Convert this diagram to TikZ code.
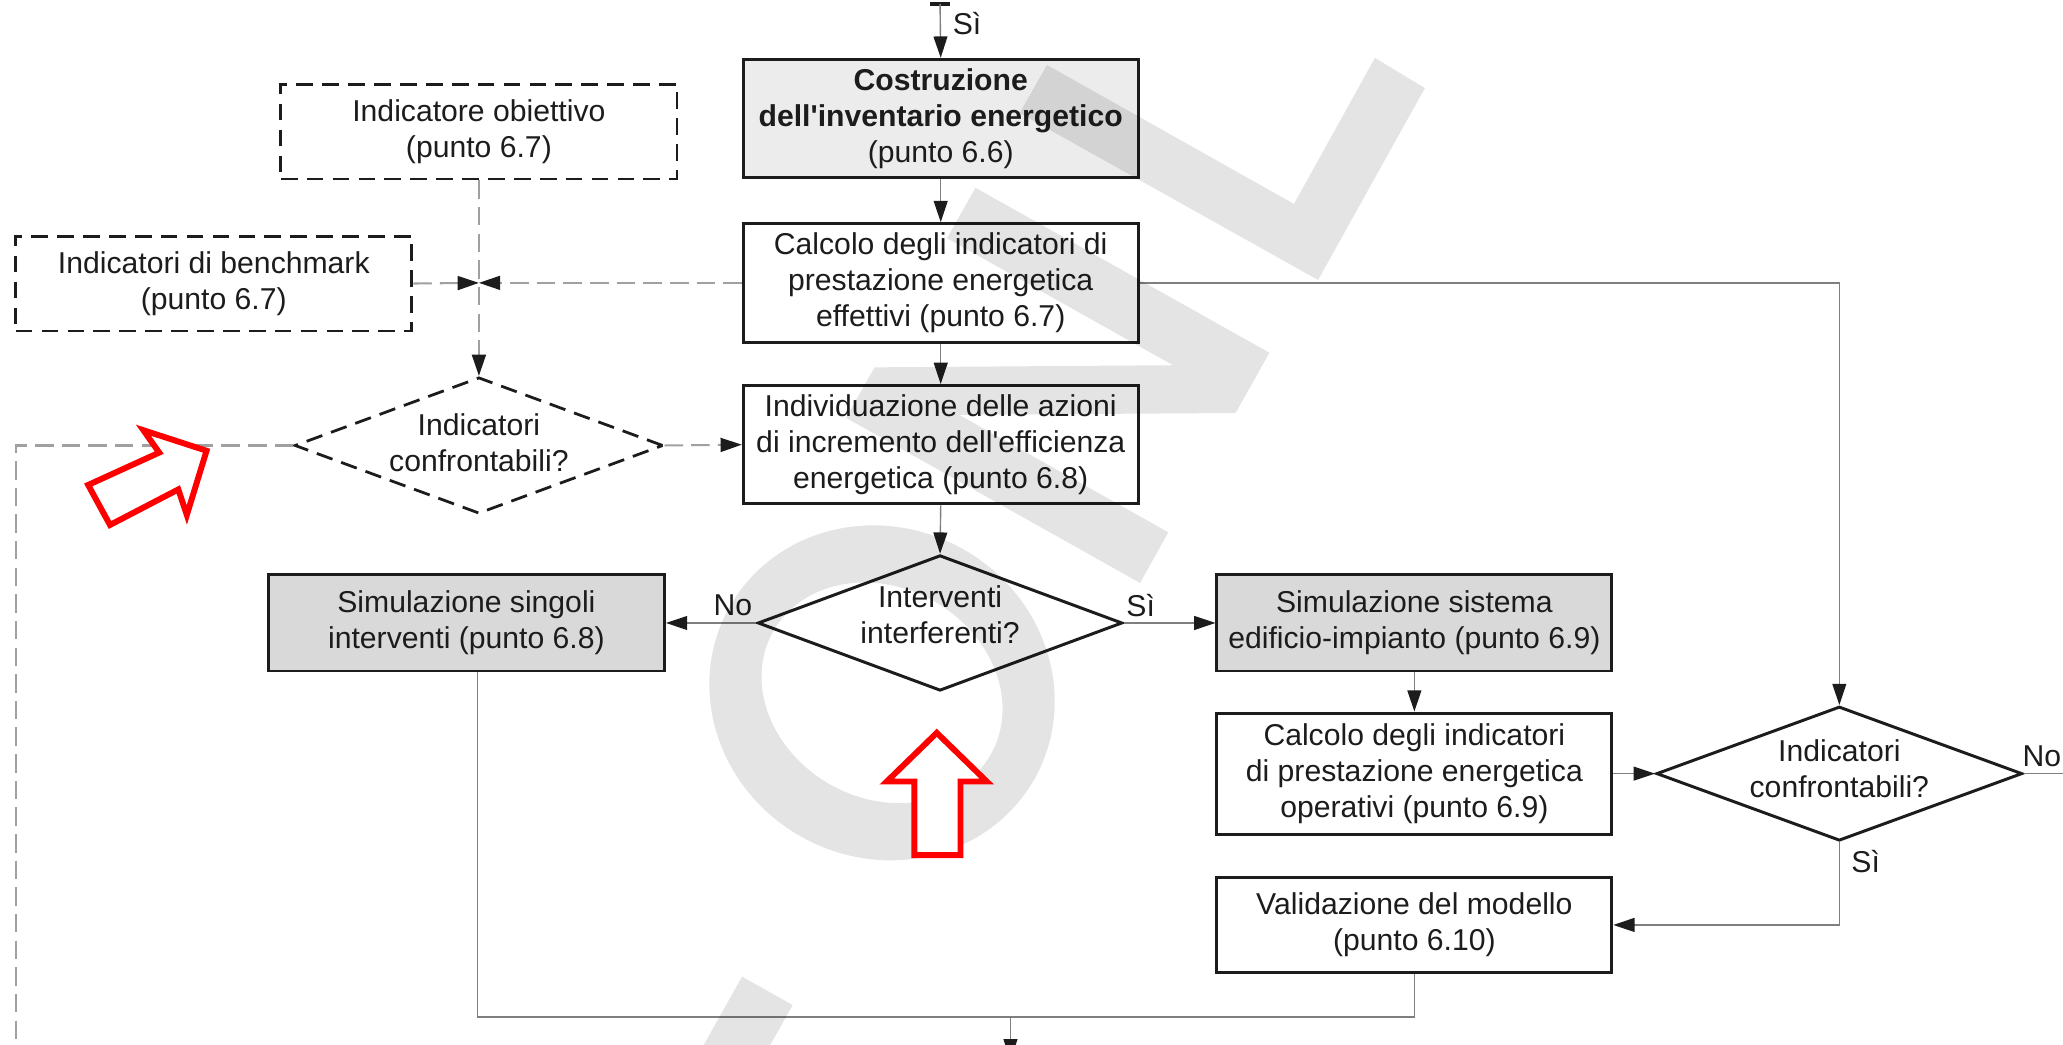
\documentclass[tikz,border=0pt]{standalone}
\usepackage{fontspec}
\newfontfamily\diagfont{Liberation Sans}
\usetikzlibrary{arrows.meta,shapes.geometric,calc}

\definecolor{ink}{HTML}{1C1C1C}
\definecolor{lnk}{HTML}{7F7F7F}
\definecolor{dlnk}{HTML}{A0A0A0}
\definecolor{fillA}{HTML}{ECECEC}
\definecolor{fillB}{HTML}{D9D9D9}

\begin{document}
\begin{tikzpicture}[x=0.025cm, y=-0.025cm,
  every node/.style={font={\diagfont\fontsize{16.3pt}{19.5pt}\selectfont}, text=ink},
  box/.style={draw=ink, line width=1.6pt, rectangle, inner sep=0pt,
              minimum width=7.5cm, align=center},
  dbox/.style={draw=ink, line width=1.5pt, rectangle, inner sep=0pt,
              minimum width=7.525cm, minimum height=1.8cm, align=center,
              dash pattern=on 9pt off 5pt},
  dec/.style={draw=ink, line width=1.6pt, shape=diamond, inner sep=0pt},
  ddec/.style={dec, line width=1.5pt, dash pattern=on 9pt off 5pt},
  txt/.style={align=center, inner sep=0pt},
  lbl/.style={inner sep=0pt},
  link/.style={draw=lnk, line width=0.75pt},
  dlink/.style={draw=dlnk, line width=1.1pt, dash pattern=on 10pt off 4.4pt},
  tip/.style={-{Triangle[length=11.5pt, width=7.5pt, color=ink]}},
  redarrow/.style={draw=red, line width=3.2pt, fill=white, line join=miter}
]
\useasboundingbox (0,0) rectangle (1568,794);

% ---------- main column ----------
\node[box, fill=fillA, minimum height=2.25cm] (inv) at (715,90)
  {\textbf{Costruzione}\\\textbf{dell'inventario energetico}\\(punto 6.6)};
\node[box, minimum height=2.25cm] (eff) at (715,215)
  {Calcolo degli indicatori di\\prestazione energetica\\effettivi (punto 6.7)};
\node[box, minimum height=2.25cm] (azi) at (715,338)
  {Individuazione delle azioni\\di incremento dell'efficienza\\energetica (punto 6.8)};
\node[dec, minimum width=6.925cm, minimum height=2.575cm] (intf) at (714.5,473.5) {};
\node[txt] (intft) at (714.5,467) {Interventi\\interferenti?};

% ---------- simulation branches ----------
\node[box, fill=fillB, minimum width=7.525cm, minimum height=1.825cm] (sing) at (354.5,473.5)
  {Simulazione singoli\\interventi (punto 6.8)};
\node[box, fill=fillB, minimum height=1.825cm] (sist) at (1075,473.5)
  {Simulazione sistema\\edificio-impianto (punto 6.9)};
\node[box, minimum height=2.3cm] (oper) at (1075,588)
  {Calcolo degli indicatori\\di prestazione energetica\\operativi (punto 6.9)};
\node[dec, minimum width=6.95cm, minimum height=2.55cm] (cmpR) at (1398,588) {};
\node[txt] (cmpRt) at (1398,584) {Indicatori\\confrontabili?};
\node[box, minimum height=1.79cm] (val) at (1075,703)
  {Validazione del modello\\(punto 6.10)};

% ---------- reference indicators (dashed) ----------
\node[dbox] (obj) at (364,100) {Indicatore obiettivo\\(punto 6.7)};
\node[dbox] (bench) at (162.5,215.5) {Indicatori di benchmark\\(punto 6.7)};
\node[ddec, minimum width=7cm, minimum height=2.59cm] (cmpL) at (364,338.6) {};
\node[txt] (cmpLt) at (364,336.5) {Indicatori\\confrontabili?};

% ---------- helper coordinates ----------
\coordinate (prevL) at (707,3);
\coordinate (prevB) at (714.5,3);
\coordinate (prevR) at (722,3);
\coordinate (jn) at (364,215);
\coordinate (merge) at (768,773);
\coordinate (exitB) at (768,806);
\coordinate (exitR) at (1580,588);
\coordinate (loopc) at (12,338.6);
\coordinate (loopd) at (12,810);

% ---------- solid connectors ----------
\draw[ink, line width=1.8pt] (prevL) -- (prevR);
\draw[link, tip] (prevB) -- (inv.north);
\node[lbl] (siTop) at (735,18) {Sì};
\draw[link, tip] (inv.south) -- (eff.north);
\draw[link, tip] (eff.south) -- (azi.north);
\draw[link, tip] (azi.south) -- (intf.north);
\draw[link, tip] (intf.west) -- (sing.east);
\node[lbl] (noL) at (557,460) {No};
\draw[link, tip] (intf.east) -- (sist.west);
\node[lbl] (siR) at (867,460) {Sì};
\draw[link, tip] (sist.south) -- (oper.north);
\draw[link, tip] (oper.east) -- (cmpR.west);
\draw[link, tip] (eff.east) -| (cmpR.north);
\draw[link, tip] (cmpR.south) |- (val.east);
\node[lbl] (siB) at (1418,655) {Sì};
\draw[link] (cmpR.east) -- (exitR);
\node[lbl] (noR) at (1552,575) {No};
\draw[link] ([xshift=0.2125cm]sing.south) |- (merge) -| (val.south);
\draw[link, tip] (merge) -- (exitB);

% ---------- dashed connectors ----------
\draw[dlink, tip] (obj.south) -- (cmpL.north);
\draw[dlink, tip] (bench.east) -- (jn);
\draw[dlink, tip] (eff.west) -- (jn);
\draw[dlink, tip] (cmpL.east) -- (azi.west);
\draw[dlink] (cmpL.west) -- (loopc) -- (loopd);

% ---------- background lettering ----------
\begin{scope}
  \clip (0,0) rectangle (1568,794);
  \fill[black, fill opacity=0.105]
    (795.8,49.4) -- (983.5,155) -- (1045,44) -- (1083,67) -- (1001.8,212.8) -- (775,85.9) -- cycle
    (866.5,443.1) -- (643.1,317.6) -- (664.7,279.2) -- (891.5,277.6) -- (719.8,181.1)
      -- (741.4,142.7) -- (964.8,268.1) -- (939.1,313.9) -- (729,315.3) -- (888,404.6) -- cycle
    (564,742.3) -- (602.5,763.9) -- (542.1,871.3) -- (503.7,849.7) -- cycle;
  \fill[black, fill opacity=0.105, even odd rule]
    plot[domain=0:360, samples=90, smooth cycle]
      ({670.4+61.45*cos(\x)-116*sin(\x)}, {526.6-109.35*cos(\x)-65.2*sin(\x)})
    plot[domain=0:360, samples=90, smooth cycle]
      ({670.4+39.2*cos(\x)-82.8*sin(\x)}, {526.6-69.8*cos(\x)-46.55*sin(\x)});
\end{scope}

% ---------- hollow red pointers ----------
\draw[redarrow] (157,342.6) -- (109,327) -- (121,344) -- (67,368.6) -- (83.6,399)
  -- (135.5,372) -- (142,391.4) -- cycle;
\draw[redarrow] (712,557) -- (750,594) -- (730,594) -- (730,650) -- (695,650)
  -- (695,594) -- (674,594) -- cycle;
\end{tikzpicture}
\end{document}
